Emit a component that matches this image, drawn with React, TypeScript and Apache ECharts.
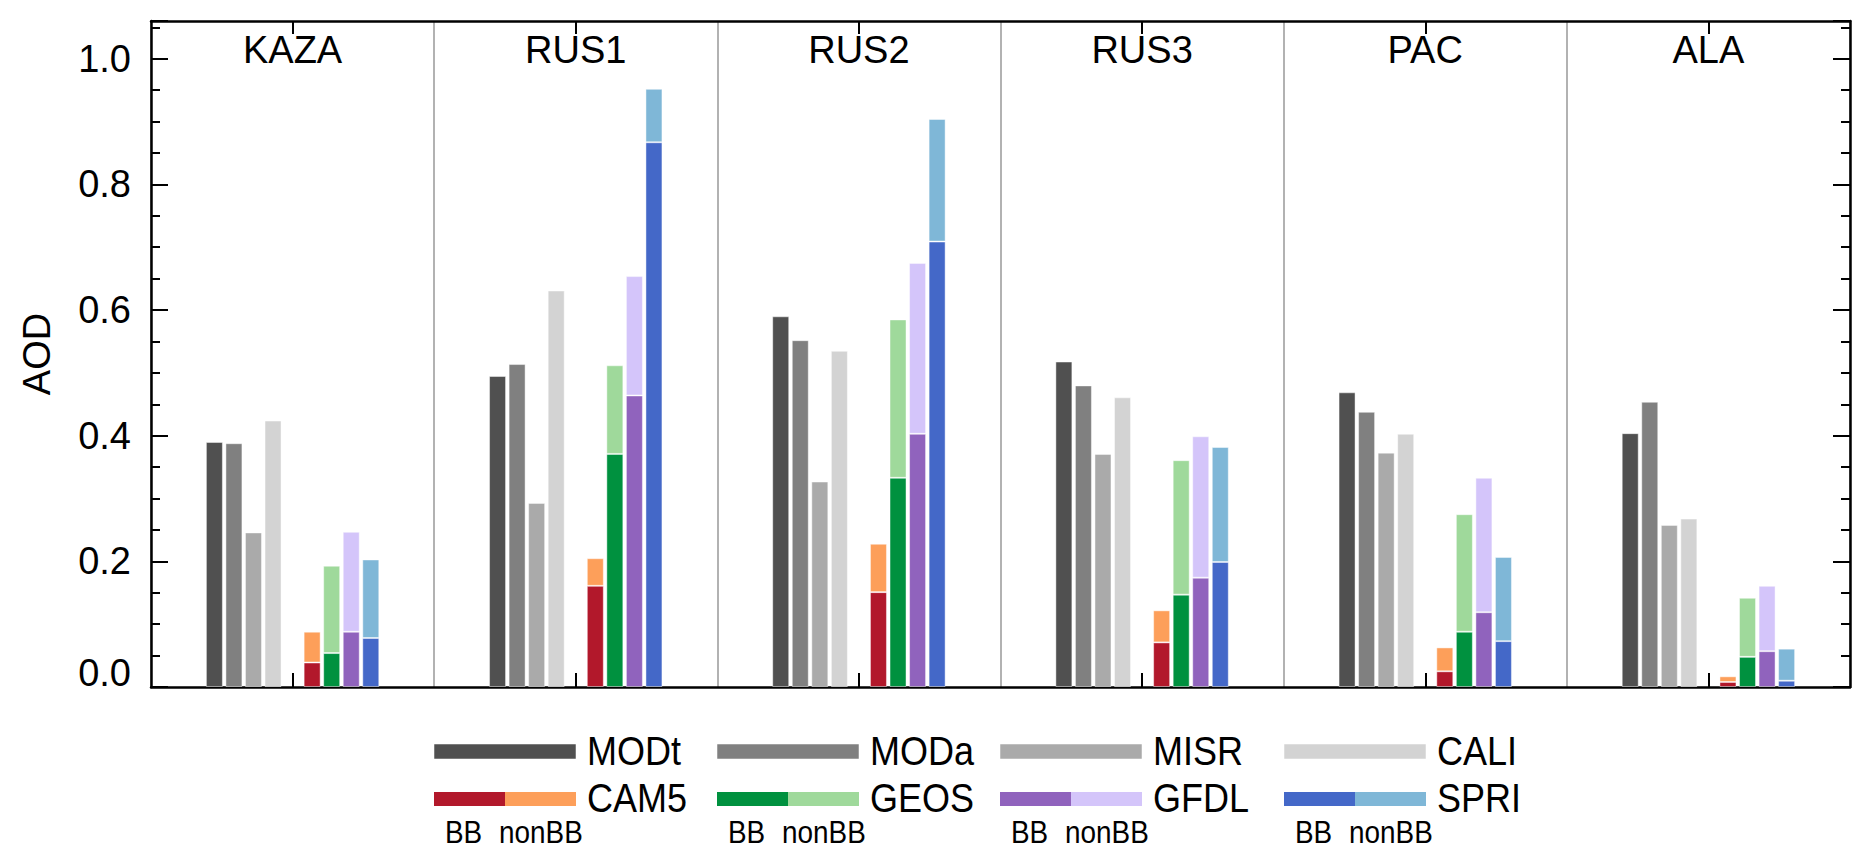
import React, { useEffect, useRef } from 'react';
import * as echarts from 'echarts';

const regions = ['KAZA', 'RUS1', 'RUS2', 'RUS3', 'PAC', 'ALA'];

// observations
const modt = [0.39, 0.495, 0.59, 0.518, 0.469, 0.404];
const moda = [0.388, 0.514, 0.552, 0.48, 0.438, 0.454];
const misr = [0.246, 0.293, 0.327, 0.371, 0.373, 0.258];
const cali = [0.424, 0.631, 0.535, 0.461, 0.403, 0.268];

// models, split into BB and nonBB parts
const cam5BB = [0.039, 0.161, 0.151, 0.071, 0.025, 0.008];
const cam5NonBB = [0.049, 0.044, 0.077, 0.051, 0.038, 0.009];
const geosBB = [0.054, 0.371, 0.333, 0.147, 0.088, 0.048];
const geosNonBB = [0.139, 0.141, 0.252, 0.214, 0.187, 0.094];
const gfdlBB = [0.088, 0.464, 0.403, 0.174, 0.119, 0.057];
const gfdlNonBB = [0.159, 0.19, 0.272, 0.225, 0.214, 0.104];
const spriBB = [0.078, 0.867, 0.709, 0.199, 0.073, 0.01];
const spriNonBB = [0.125, 0.085, 0.195, 0.183, 0.134, 0.051];

const yTickLabels = ['0.0', '0.2', '0.4', '0.6', '0.8', '1.0'];

const FONT = '"Liberation Sans", Arial, sans-serif';
const edge = { borderColor: 'rgba(255,255,255,0.45)', borderWidth: 1 };

const obsNames = ['MODt', 'MODa', 'MISR', 'CALI'];
const obsColors = ['#505050', '#808080', '#aaaaaa', '#d3d3d3'];
const modelNames = ['CAM5', 'GEOS', 'GFDL', 'SPRI'];
const modelColors = [
  ['#b2182b', '#fd9f5a'],
  ['#00913f', '#9fd99b'],
  ['#9063bd', '#d4c5fa'],
  ['#4468c8', '#7fb7d7'],
];

const bar = (name: string, data: (number | null)[], color: string, stack?: string) => ({
  name,
  type: 'bar',
  data,
  stack,
  barWidth: 17,
  barGap: '15%',
  itemStyle: { color, ...edge },
  silent: true,
});

const App = () => {
  const chartRef = useRef<HTMLDivElement>(null);

  useEffect(() => {
    if (!chartRef.current) return;
    const chart = echarts.init(chartRef.current, undefined, { renderer: 'svg' });

    const black = { color: '#000', width: 2.5 };
    const tickStyle = { color: '#000', width: 2 };
    const yBase = {
      type: 'value',
      min: 0,
      max: 1.06,
      interval: 0.2,
      splitLine: { show: false },
      axisLine: { show: true, lineStyle: black },
      axisTick: { show: true, inside: true, length: 17, lineStyle: tickStyle },
      minorTick: { show: true, splitNumber: 4, length: 9, lineStyle: tickStyle },
    };

    const label = (text: string, x: number, y: number, size: number) => ({
      type: 'text',
      x,
      y,
      scaleX: 0.9,
      style: { text, x: 0, y: 0, font: `${size}px ${FONT}`, fill: '#000', textVerticalAlign: 'middle', verticalAlign: 'middle' },
    });

    // legend drawn by hand: two-tone swatches are not possible with the built-in legend
    const legend: any[] = [];
    const colX = [434, 717, 1000, 1284];
    obsNames.forEach((n, i) => {
      legend.push({
        type: 'rect',
        shape: { x: colX[i], y: 744, width: 142, height: 15 },
        style: { fill: obsColors[i], stroke: 'rgba(255,255,255,0.5)', lineWidth: 1 },
      });
      legend.push(label(n, colX[i] + 153, 751, 40));
    });
    modelNames.forEach((n, i) => {
      legend.push({
        type: 'rect',
        shape: { x: colX[i], y: 792, width: 71, height: 14 },
        style: { fill: modelColors[i][0] },
      });
      legend.push({
        type: 'rect',
        shape: { x: colX[i] + 71, y: 792, width: 71, height: 14 },
        style: { fill: modelColors[i][1] },
      });
      legend.push(label(n, colX[i] + 153, 798, 40));
      legend.push(label('BB', colX[i] + 11, 832, 31));
      legend.push(label('nonBB', colX[i] + 65, 832, 31));
    });

    const option = {
      animation: false,
      textStyle: { fontFamily: FONT },
      grid: { left: 151, right: 22, top: 21, bottom: 175 },
      xAxis: [
        {
          type: 'category',
          data: regions,
          position: 'bottom',
          axisLine: { onZero: false, lineStyle: black },
          axisTick: { show: true, inside: true, alignWithLabel: true, length: 14, interval: 0, lineStyle: tickStyle },
          axisLabel: { show: false, interval: 0 },
          splitLine: { show: true, interval: 0, lineStyle: { color: '#999', width: 1.5 } },
        },
        {
          type: 'category',
          data: regions,
          position: 'top',
          axisLine: { onZero: false, lineStyle: black },
          axisTick: { show: true, inside: true, alignWithLabel: true, length: 13, interval: 0, lineStyle: tickStyle },
          axisLabel: { inside: true, interval: 0, margin: 10, fontSize: 38, color: '#000', fontFamily: FONT },
        },
      ],
      yAxis: [
        {
          ...yBase,
          position: 'left',
          axisLabel: {
            fontSize: 38,
            color: '#000',
            fontFamily: FONT,
            margin: 20,
            formatter: (v: number) => {
              const k = Math.round(v / 0.2);
              if (Math.abs(v - k * 0.2) > 1e-6 || !yTickLabels[k]) return '';
              return k === 0 ? `{z|${yTickLabels[k]}}` : yTickLabels[k];
            },
            rich: { z: { fontSize: 38, color: '#000', fontFamily: FONT, padding: [0, 0, 29, 0] } },
          },
          name: 'AOD',
          nameLocation: 'middle',
          nameGap: 95,
          nameTextStyle: { fontSize: 38, color: '#000', fontFamily: FONT },
        },
        {
          ...yBase,
          position: 'right',
          axisLabel: { show: false },
        },
      ],
      series: [
        bar('MODt', modt, obsColors[0]),
        bar('MODa', moda, obsColors[1]),
        bar('MISR', misr, obsColors[2]),
        bar('CALI', cali, obsColors[3]),
        // empty slot between observations and models
        bar('gap', regions.map(() => null), 'transparent'),
        bar('CAM5 BB', cam5BB, modelColors[0][0], 'cam5'),
        bar('CAM5 nonBB', cam5NonBB, modelColors[0][1], 'cam5'),
        bar('GEOS BB', geosBB, modelColors[1][0], 'geos'),
        bar('GEOS nonBB', geosNonBB, modelColors[1][1], 'geos'),
        bar('GFDL BB', gfdlBB, modelColors[2][0], 'gfdl'),
        bar('GFDL nonBB', gfdlNonBB, modelColors[2][1], 'gfdl'),
        bar('SPRI BB', spriBB, modelColors[3][0], 'spri'),
        bar('SPRI nonBB', spriNonBB, modelColors[3][1], 'spri'),
      ],
      graphic: legend,
    };

    chart.setOption(option);

    return () => {
      chart.dispose();
    };
  }, []);

  return (
    <div
      ref={chartRef}
      style={{ position: 'fixed', left: 0, top: 0, width: '1872px', height: '862px', background: '#fff' }}
    />
  );
};

export default App;
